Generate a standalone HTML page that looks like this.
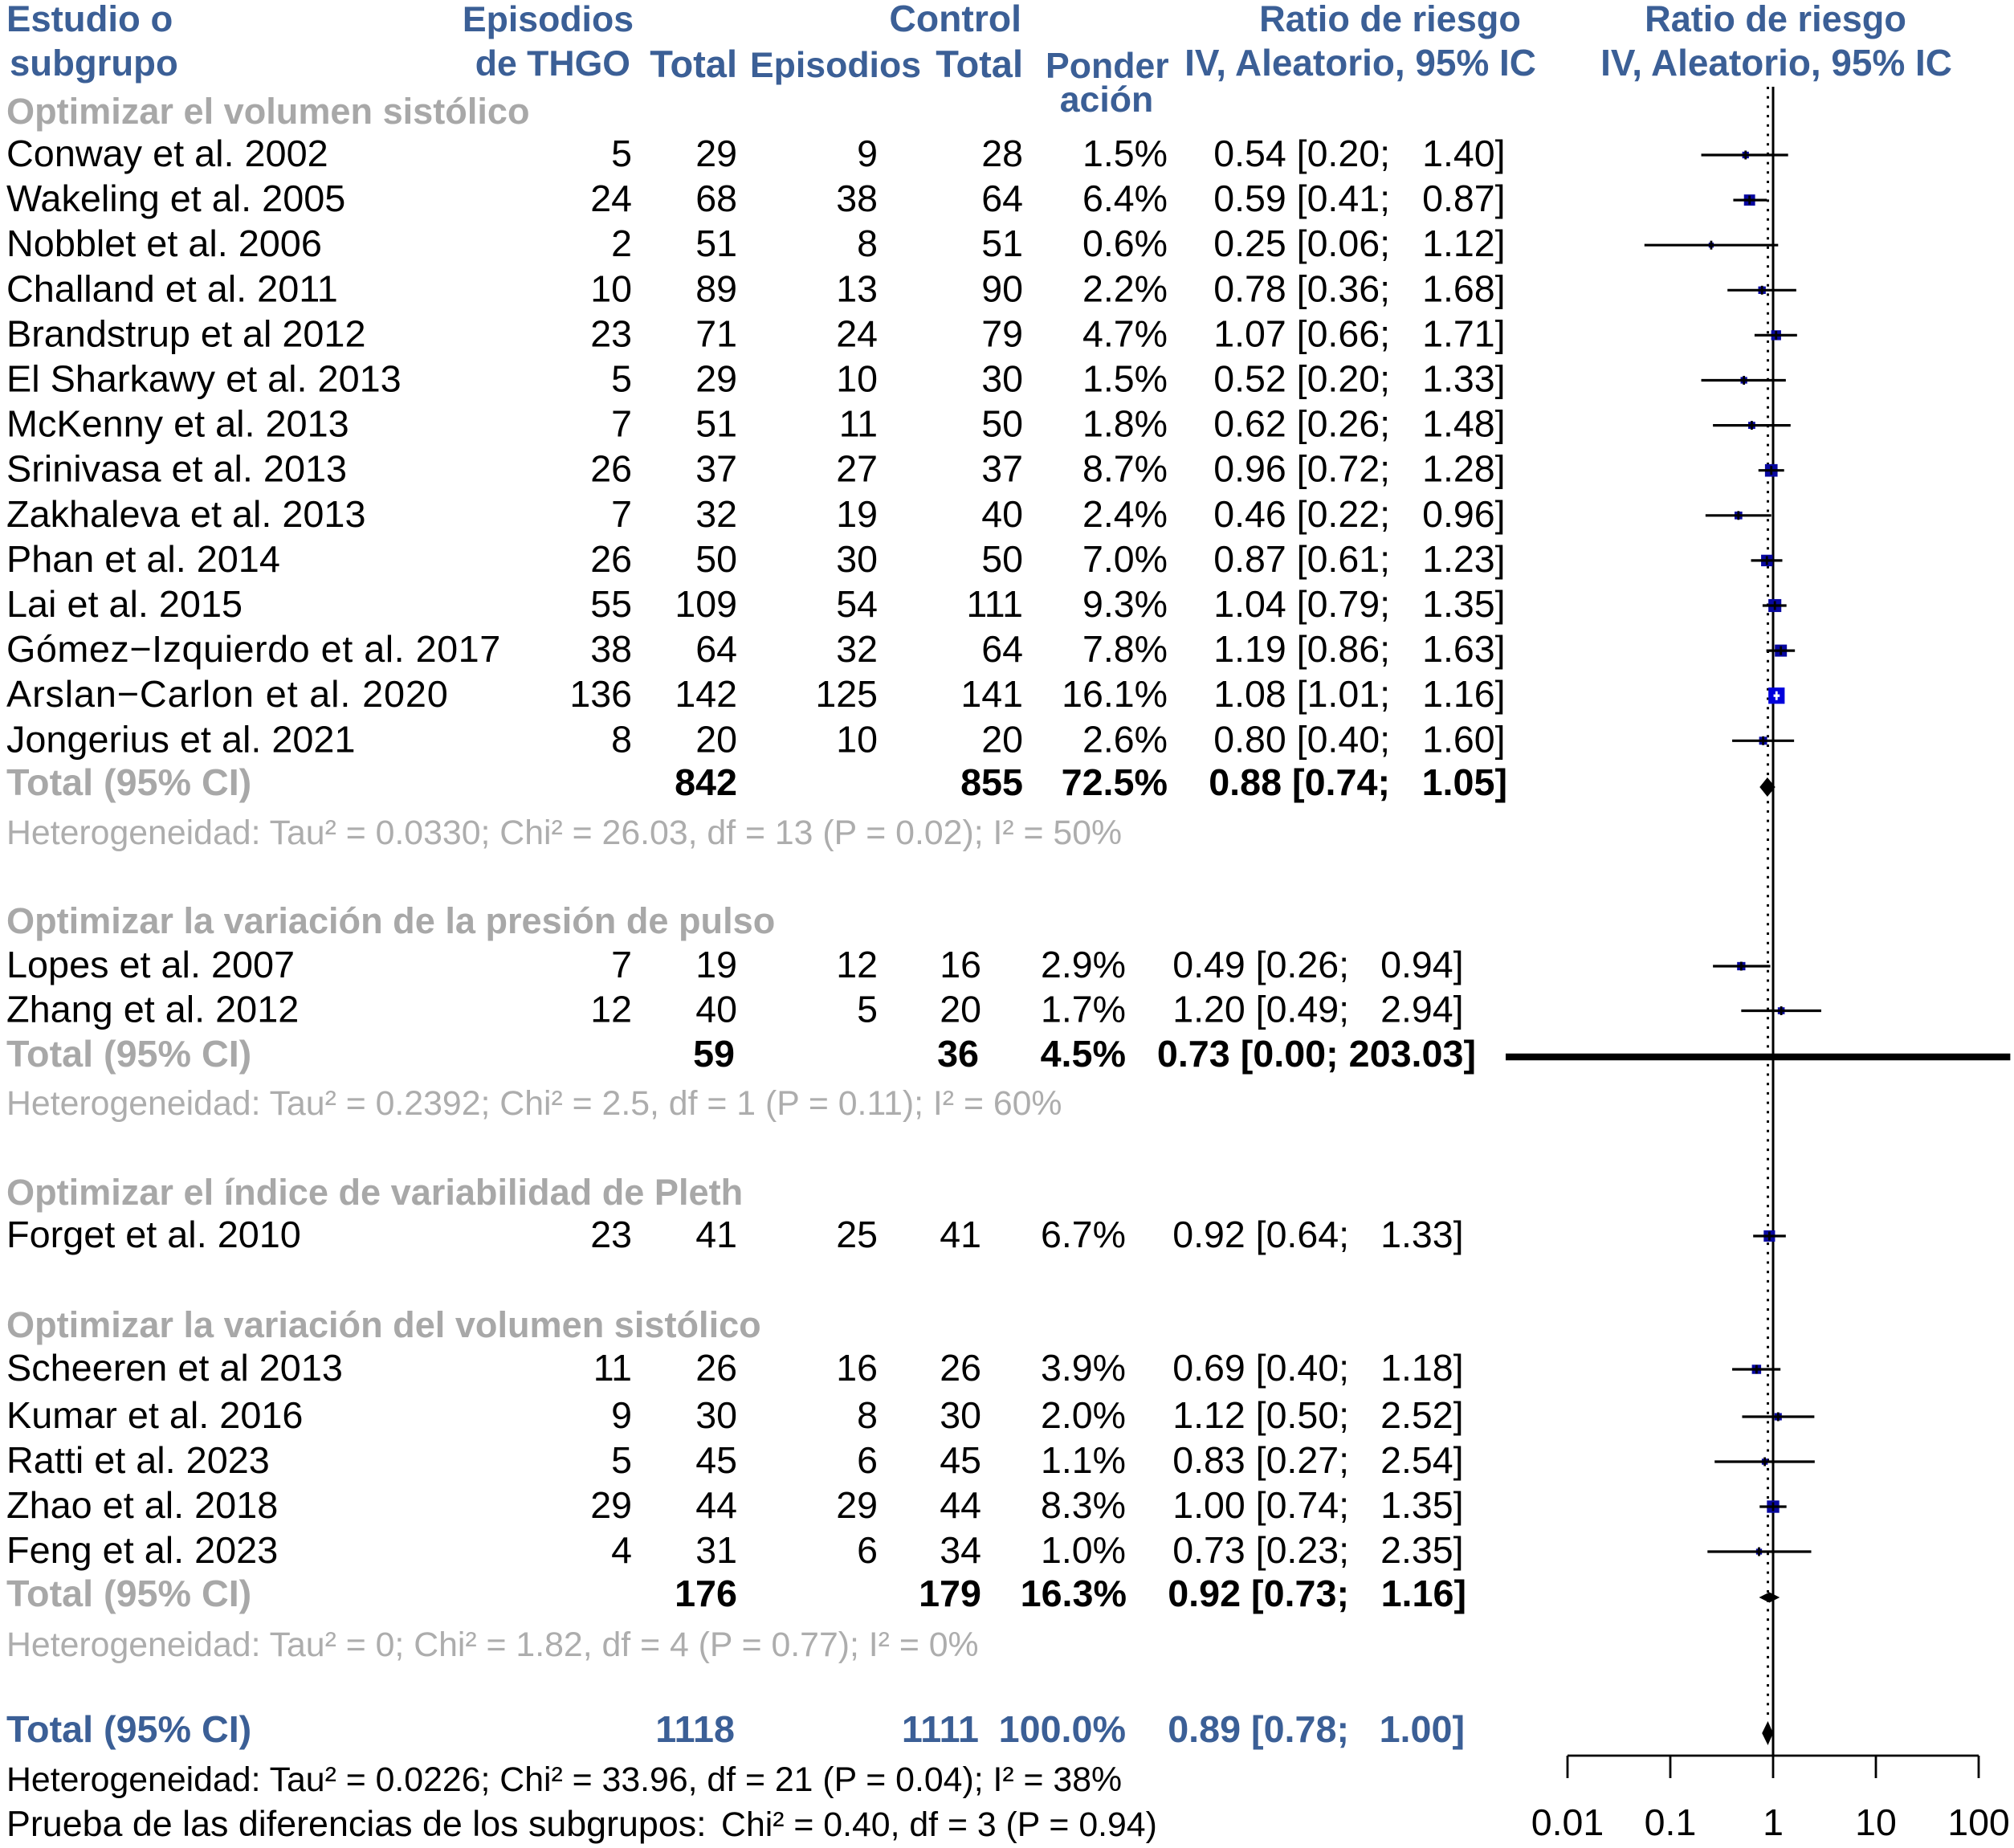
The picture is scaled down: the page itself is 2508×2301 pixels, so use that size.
<!DOCTYPE html>
<html lang="es">
<head>
<meta charset="utf-8">
<title>Forest plot</title>
<style>
html,body{margin:0;padding:0;background:#fff;}
svg{display:block;font-family:"Liberation Sans",Arial,sans-serif;}
.h{font-weight:700;font-size:45.5px;fill:#3b5f96;}
.he{font-weight:700;font-size:44.6px;fill:#3b5f96;}
.ht{font-weight:700;font-size:47px;fill:#3b5f96;}
.d{font-size:46.5px;fill:#000;}
.n{font-size:46.8px;fill:#000;}
.g{font-weight:700;font-size:45.1px;fill:#a8a8a8;}
.gt{font-weight:700;font-size:46.7px;fill:#a8a8a8;}
.b{font-weight:700;font-size:46.7px;fill:#000;}
.s{font-size:42.8px;fill:#adadad;}
.k{font-size:42.8px;fill:#000;}
.kl{font-size:44.8px;fill:#000;}
.p{font-weight:700;font-size:46.7px;fill:#3b5f96;}
</style>
</head>
<body>
<svg id="forest" xmlns="http://www.w3.org/2000/svg" width="2508" height="2301" viewBox="0 0 2508 2301">
<rect width="2508" height="2301" fill="#fff"/>
<g>
<text class="h" x="8" y="39">Estudio o</text>
<text class="h" x="12" y="94">subgrupo</text>
<text class="he" x="789" y="39" text-anchor="end">Episodios</text>
<text class="he" x="785" y="94" text-anchor="end">de THGO</text>
<text class="ht" x="918" y="96" text-anchor="end">Total</text>
<text class="he" x="1147" y="96" text-anchor="end">Episodios</text>
<text class="h" x="1272" y="39" text-anchor="end" style="font-size:46.3px">Control</text>
<text class="ht" x="1274" y="96" text-anchor="end">Total</text>
<text class="he" x="1302" y="97">Ponder</text>
<text class="he" x="1378" y="139" text-anchor="middle">ación</text>
<text class="h" x="1731" y="39" text-anchor="middle" style="font-size:45.1px">Ratio de riesgo</text>
<text class="h" x="1694" y="94" text-anchor="middle" style="font-size:45.9px">IV, Aleatorio, 95% IC</text>
<text class="h" x="2211" y="39" text-anchor="middle" style="font-size:45.1px">Ratio de riesgo</text>
<text class="h" x="2212" y="94" text-anchor="middle" style="font-size:45.9px">IV, Aleatorio, 95% IC</text>
</g>
<g>
<text class="g" x="8" y="154">Optimizar el volumen sistólico</text>
<text class="g" x="8" y="1162">Optimizar la variación de la presión de pulso</text>
<text class="g" x="8" y="1500">Optimizar el índice de variabilidad de Pleth</text>
<text class="g" x="8" y="1665">Optimizar la variación del volumen sistólico</text>
</g>
<g>
<text class="s" x="8" y="1051">Heterogeneidad: Tau² = 0.0330; Chi² = 26.03, df = 13 (P = 0.02); I² = 50%</text>
<text class="s" x="8" y="1388">Heterogeneidad: Tau² = 0.2392; Chi² = 2.5, df = 1 (P = 0.11); I² = 60%</text>
<text class="s" x="8" y="2062">Heterogeneidad: Tau² = 0; Chi² = 1.82, df = 4 (P = 0.77); I² = 0%</text>
<text class="k" x="8" y="2230">Heterogeneidad: Tau² = 0.0226; Chi² = 33.96, df = 21 (P = 0.04); I² = 38%</text>
<text class="kl" x="8" y="2286">Prueba de las diferencias de los subgrupos: <tspan class="k" dx="6">Chi² = 0.40, df = 3 (P = 0.94)</tspan></text>
</g>
</svg>
<script>
// ---- study data ----
const studies = ["Conway et al. 2002","Wakeling et al. 2005","Nobblet et al. 2006","Challand et al. 2011","Brandstrup et al 2012","El Sharkawy et al. 2013","McKenny et al. 2013","Srinivasa et al. 2013","Zakhaleva et al. 2013","Phan et al. 2014","Lai et al. 2015","Gómez−Izquierdo et al. 2017","Arslan−Carlon et al. 2020","Jongerius et al. 2021","Lopes et al. 2007","Zhang et al. 2012","Forget et al. 2010","Scheeren et al 2013","Kumar et al. 2016","Ratti et al. 2023","Zhao et al. 2018","Feng et al. 2023"];
const groupOf = [0,0,0,0,0,0,0,0,0,0,0,0,0,0,1,1,2,3,3,3,3,3];
const eventsT = [5,24,2,10,23,5,7,26,7,26,55,38,136,8,7,12,23,11,9,5,29,4];
const totalT = [29,68,51,89,71,29,51,37,32,50,109,64,142,20,19,40,41,26,30,45,44,31];
const eventsC = [9,38,8,13,24,10,11,27,19,30,54,32,125,10,12,5,25,16,8,6,29,6];
const totalC = [28,64,51,90,79,30,50,37,40,50,111,64,141,20,16,20,41,26,30,45,44,34];
const weights = [1.5,6.4,0.6,2.2,4.7,1.5,1.8,8.7,2.4,7.0,9.3,7.8,16.1,2.6,2.9,1.7,6.7,3.9,2.0,1.1,8.3,1.0];
const means = [0.54,0.59,0.25,0.78,1.07,0.52,0.62,0.96,0.46,0.87,1.04,1.19,1.08,0.80,0.49,1.20,0.92,0.69,1.12,0.83,1.00,0.73];
const lowers = [0.20,0.41,0.056,0.36,0.66,0.20,0.26,0.72,0.22,0.61,0.79,0.86,1.01,0.40,0.26,0.49,0.64,0.40,0.50,0.27,0.74,0.23];
const uppers = [1.40,0.87,1.12,1.68,1.71,1.33,1.48,1.28,0.96,1.23,1.35,1.63,1.16,1.60,0.94,2.94,1.33,1.18,2.52,2.54,1.35,2.35];

// ---- summary data (subgroup 1, 2, 4, overall) ----
const summaryTotalT = [842,59,176,1118];
const summaryTotalC = [855,36,179,1111];
const summaryWeights = [72.5,4.5,16.3,100.0];
const summaryMeans = [0.88,0.73,0.92,0.89];
const summaryLowers = [0.74,0.00,0.73,0.78];
const summaryUppers = [1.05,203.03,1.16,1.00];

// ---- axis ----
const axisTicks = [0.01,0.1,1,10,100];
const axisTickLabels = ["0.01","0.1","1","10","100"];

const NS = "http://www.w3.org/2000/svg";
const root = document.getElementById("forest");
const xPerDecade = 128, xAtOne = 2208, plotLeft = 1875, plotRight = 2506;
function x(v){
  if (v <= 0) return plotLeft;
  return Math.max(plotLeft, Math.min(plotRight, xAtOne + xPerDecade * Math.log10(v)));
}
function make(tag, attrs, parent){
  const el = document.createElementNS(NS, tag);
  for (const k in attrs) el.setAttribute(k, attrs[k]);
  (parent || root).appendChild(el);
  return el;
}
function label(cls, str, px, py, anchor){
  const el = make("text", {class: cls, x: px, y: py, "text-anchor": anchor || "end"});
  el.textContent = str;
  return el;
}
function groupRowCount(i){
  let k = 0;
  for (let j = 0; j < i; j++) if (groupOf[j] === groupOf[i]) k++;
  return k;
}
function baseline(i){
  const g = groupOf[i], k = groupRowCount(i);
  if (g === 0) return 207 + 56.1 * k;
  if (g === 1) return 1217 + 55.5 * k;
  if (g === 2) return 1553;
  return k === 0 ? 1719 : 1722 + 56 * k;
}
function columns(g){
  return g === 0 ? {c: 1274, w: 1454, a: 1731, b: 1874.5} : {c: 1222, w: 1402, a: 1680, b: 1822.5};
}

// reference lines
const refLine = make("line", {x1: x(1), x2: x(1), y1: 108, y2: 2186, stroke: "#000", "stroke-width": 3});


const pooledLine = make("line", {x1: x(summaryMeans[3]), x2: x(summaryMeans[3]), y1: 108, y2: 2140, stroke: "#000", "stroke-width": 3, "stroke-dasharray": "3 8.7"});



// study rows
studies.forEach(function(name, i){
  const y = baseline(i), col = columns(groupOf[i]), my = y - 14;
  const n = label("n", name, 8, y, "start");
  
  
  if (name.indexOf("Arslan") === 0) n.style.letterSpacing = "0.85px";
  if (name.indexOf("Gómez") === 0) n.style.letterSpacing = "0.5px";
  const e1 = label("d", eventsT[i], 787, y);
  
  
  const t1 = label("d", totalT[i], 918, y);
  
  
  const e2 = label("d", eventsC[i], 1093, y);
  
  
  const t2 = label("d", totalC[i], col.c, y);
  
  
  const w = label("d", weights[i].toFixed(1) + "%", col.w, y);
  
  
  const rr = label("d", means[i].toFixed(2) + " [" + lowers[i].toFixed(2) + ";", col.a, y);
  
  
  const up = label("d", uppers[i].toFixed(2) + "]", col.b, y);
  
  

  const size = 3 + 4.3 * Math.sqrt(weights[i]);
  const big = weights[i] > 15;
  const sq = make("rect", {x: x(means[i]) - size / 2, y: my - size / 2, width: size, height: size, fill: big ? "#0000dc" : "#0808a0"});
  
  
  const ci = make("line", {x1: x(lowers[i]), x2: x(uppers[i]), y1: my, y2: my, stroke: big ? "#fff" : "#000", "stroke-width": 3.2});
  
  
  const tick = make("line", {x1: x(means[i]), x2: x(means[i]), y1: my - 5.5, y2: my + 5.5, stroke: big ? "#fff" : "#000", "stroke-width": 2.8});
  
  
});

// summary rows
function summaryRow(s, y, lblClass, valClass, col, upperX, ciAnchor){
  const n = label(lblClass, "Total (95% CI)", 8, y, "start");
  
  
  const t1 = label(valClass, summaryTotalT[s], col.t, y);
  
  
  const t2 = label(valClass, summaryTotalC[s], col.c, y);
  
  
  const w = label(valClass, summaryWeights[s].toFixed(1) + "%", col.w, y);
  
  
  const base = summaryMeans[s].toFixed(2) + " [" + summaryLowers[s].toFixed(2) + ";";
  const up = summaryUppers[s].toFixed(2) + "]";
  if (ciAnchor === null) {
    const rr = label(valClass, base + " " + up, upperX, y);
    
    
  } else {
    const rr = label(valClass, base, ciAnchor, y);
    
    
    const u = label(valClass, up, upperX, y);
    
    
  }
}
function diamond(s, cy, h){
  const d = make("polygon", {points: [x(summaryLowers[s]) + "," + cy, x(summaryMeans[s]) + "," + (cy - h / 2), x(summaryUppers[s]) + "," + cy, x(summaryMeans[s]) + "," + (cy + h / 2)].join(" "), fill: "#000"});
  
  
}
summaryRow(0, 990, "gt", "b", {t: 918, c: 1274, w: 1454}, 1877, 1731);
summaryRow(1, 1328, "gt", "b", {t: 915, c: 1219, w: 1402}, 1838, null);
summaryRow(2, 2000, "gt", "b", {t: 918, c: 1222, w: 1403}, 1826, 1680);
summaryRow(3, 2169, "p", "p", {t: 915, c: 1219, w: 1402}, 1824, 1680);
diamond(0, 980, 24);
const wide = make("line", {x1: x(summaryLowers[1]), x2: x(summaryUppers[1]), y1: 1316, y2: 1316, stroke: "#000", "stroke-width": 8.5});


diamond(2, 1989, 13);
diamond(3, 2158, 30);

// axis
const axisLine = make("line", {x1: x(axisTicks[0]), x2: x(axisTicks[axisTicks.length - 1]), y1: 2186, y2: 2186, stroke: "#000", "stroke-width": 2.8});


axisTicks.forEach(function(v, i){
  const t = make("line", {x1: x(v), x2: x(v), y1: 2186, y2: 2214, stroke: "#000", "stroke-width": 2.8});
  
  
  const l = label("d", axisTickLabels[i], x(v), 2285, "middle");
  
  
});
</script>
</body>
</html>
